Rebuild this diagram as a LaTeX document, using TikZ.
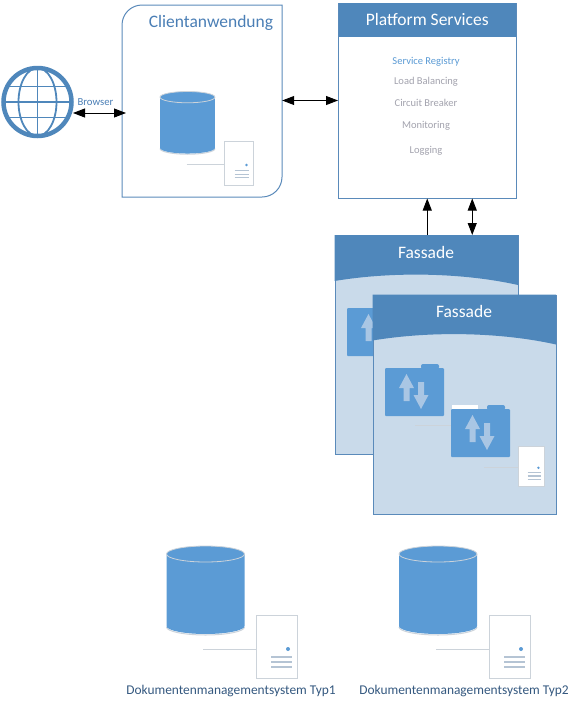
\documentclass[tikz,border=0pt]{standalone}
\usepackage{fontspec}
\setmainfont{Carlito}
\usepackage{tikz}
\usetikzlibrary{positioning,arrows.meta,calc}
\definecolor{dmsblue}{HTML}{5B9BD5}
\definecolor{headblue}{HTML}{4F87BB}
\definecolor{edgeblue}{HTML}{5A8ABA}
\definecolor{paleblue}{HTML}{C9DAEA}
\definecolor{arrowblue}{HTML}{A9C6E4}
\definecolor{titleblue}{HTML}{4A7EB5}
\definecolor{srvgrey}{HTML}{CCD3DA}
\definecolor{itemgrey}{HTML}{A3A3AE}
\tikzset{
  link/.style={{Triangle[length=12pt,width=9pt]}-{Triangle[length=12pt,width=9pt]},black,line width=0.9pt},
  uplink/.style={-{Triangle[length=12pt,width=9pt]},black,line width=0.9pt},
  title/.style={font=\fontsize{17.5}{20}\selectfont},
  item/.style={font=\fontsize{10.5}{12}\selectfont,text=itemgrey},
  dmslabel/.style={font=\fontsize{13.4}{15}\selectfont,text=titleblue!70!black},
  pics/cylinderpic/.style={code={
    \draw[srvgrey,line width=1pt] (0,81) arc[start angle=180,end angle=0,x radius=39,y radius=8];
    \fill[dmsblue] (0,8) -- (0,80) arc[start angle=180,end angle=0,x radius=39,y radius=8]
      -- (78,8) arc[start angle=0,end angle=-180,x radius=39,y radius=8] -- cycle;
    \draw[srvgrey,line width=0.8pt] (39,8) ellipse[x radius=39,y radius=8];
  }},
  pics/serverpic/.style={code={
    \draw[srvgrey,line width=1pt] (-53,34) -- (0,34);
    \draw[srvgrey,fill=white,line width=0.8pt] (0,0) rectangle (41,63);
    \fill[dmsblue] (32,34) circle[radius=2];
    \foreach \ypos in {42,47,52}
      \draw[srvgrey!80!edgeblue,line width=1.2pt] (15,\ypos) -- (36,\ypos);
  }},
  pics/folderpic/.style={code={
    \fill[dmsblue,rounded corners=2pt] (36,1) -- (36,-4) -- (54,-4) -- (54,1) -- cycle;
    \fill[dmsblue,rounded corners=1pt] (0,0) rectangle (59,48);
    \fill[arrowblue] (21.5,6) -- (29,20) -- (24.5,20) -- (24.5,33) -- (18.5,33) -- (18.5,20) -- (14,20) -- cycle;
    \fill[arrowblue] (36,41) -- (28.5,27) -- (33,27) -- (33,14) -- (39,14) -- (39,27) -- (43.5,27) -- cycle;
  }},
  pics/fassadepic/.style={code={
    \node[draw=edgeblue,fill=paleblue,line width=1pt,minimum width=183.5pt,minimum height=219pt,
      anchor=north west,inner sep=0pt] (box) at (0,0) {};
    \fill[headblue] (0,0) -- (183.5,0) -- (183.5,50) .. controls (130,38) and (60,36) .. (0,46) -- cycle;
    \node[title,text=white] (head) at (91.5,17) {Fassade};
  }}
}
\begin{document}
\begin{tikzpicture}[x=1pt,y=-1pt]
  \useasboundingbox (0,0) rectangle (581,713);
  % globe
  \node[circle,draw=headblue,line width=4.5pt,minimum size=68pt,inner sep=0pt] (globe) at (37.5,102) {};
  \begin{scope}[shift={(globe.center)},headblue,line width=1.8pt]
    \draw (0,-34) -- (0,34);
    \draw (-34,0) -- (34,0);
    \draw (-30,-15.5) -- (30,-15.5);
    \draw (-30,15.5) -- (30,15.5);
    \draw (0,0) ellipse[x radius=19,y radius=34];
  \end{scope}
  % client
  \node[minimum width=160pt,minimum height=192pt,inner sep=0pt] (client) at (202,101) {};
  \draw[edgeblue,line width=1pt] (142,5) -- (282,5) -- (282,177)
    arc[start angle=0,end angle=90,radius=20] -- (122,197) -- (122,25)
    arc[start angle=180,end angle=270,radius=20];
  \node[title,text=titleblue] (clienttitle) at (211,22.5) {Clientanwendung};
  \pic[scale=0.705] at (160,91.5) {cylinderpic};
  \pic[scale=0.705] at (224,141) {serverpic};
  % platform
  \node[draw=edgeblue,line width=1pt,fill=white,minimum width=177.5pt,minimum height=195pt,inner sep=0pt] (platform) at (427.25,100.5) {};
  \node[fill=headblue,minimum width=177.5pt,minimum height=34pt,inner sep=0pt,text=white,title,below=0pt of platform.north] (platformtitle) {Platform Services};
  \node[item,text=dmsblue] (registry) at (426,61.5) {Service Registry};
  \node[item] (balancing) at (426,81.5) {Load Balancing};
  \node[item] (breaker) at (426,102.5) {Circuit Breaker};
  \node[item] (monitoring) at (426,125.5) {Monitoring};
  \node[item] (logging) at (426,150.5) {Logging};
  % fassade
  \pic (fa) at (334.5,235) {fassadepic};
  \pic at (347,308) {folderpic};
  \pic (fb) at (372.5,294.5) {fassadepic};
  \fill[white] (452,404.5) rectangle (478,410);
  \pic at (385,368) {folderpic};
  \pic at (451,409) {folderpic};
  \draw[srvgrey,line width=1pt] (415,425) -- (451,425);
  \pic[scale=0.64] at (518,446) {serverpic};
  % dms
  \pic at (166.5,546) {cylinderpic};
  \pic at (256,615) {serverpic};
  \node[dmslabel] (typa) at (231,691) {Dokumentenmanagementsystem Typ1};
  \pic at (399,546) {cylinderpic};
  \pic at (489,615) {serverpic};
  \node[dmslabel] (typb) at (464,691) {Dokumentenmanagementsystem Typ2};
  % links
  \coordinate (globeport) at (73,113);
  \coordinate (clientport) at (126,113);
  \draw[link] (globeport) -- (clientport);
  \node[font=\fontsize{10.7}{12}\selectfont,text=titleblue] (browser) at (95.5,102.5) {Browser};
  \draw[link] (client.east |- platform.west) -- (platform.west);
  \draw[uplink] (platform.south |- fabox.north) -- (platform.south);
  \coordinate (syncport) at ([xshift=45pt]platform.south);
  \draw[link] (syncport) -- (syncport |- fabox.north);
\end{tikzpicture}
\end{document}
